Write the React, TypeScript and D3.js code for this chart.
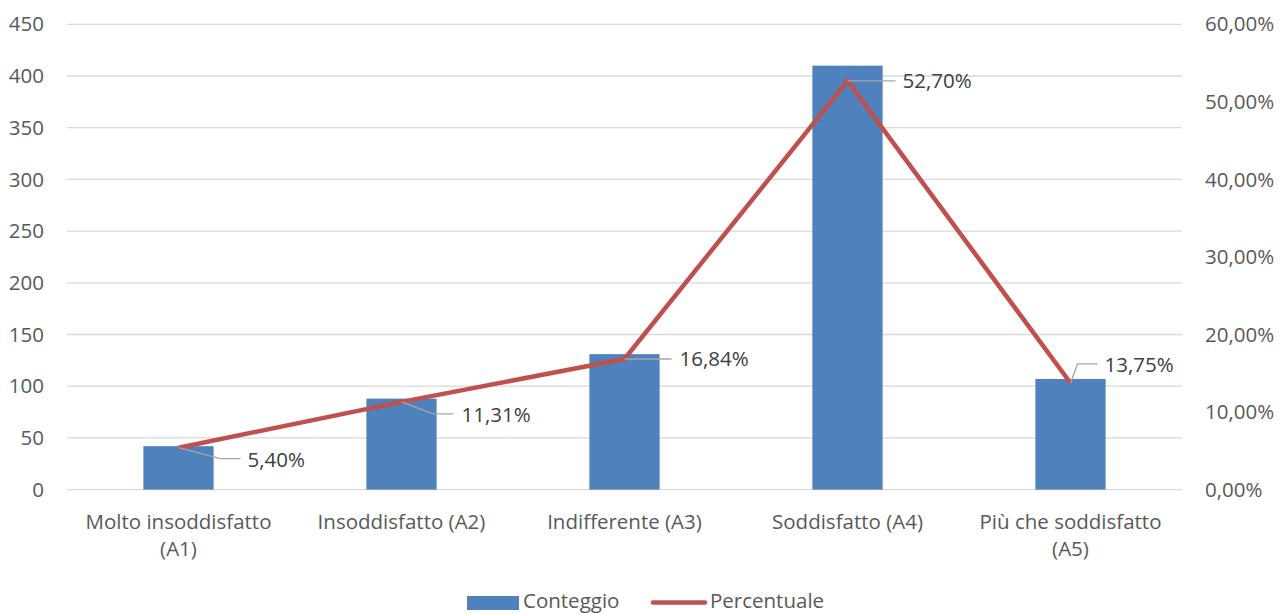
import React from "react";
import * as d3 from "d3";

const categories = [
  ["Molto insoddisfatto", "(A1)"],
  ["Insoddisfatto (A2)"],
  ["Indifferente (A3)"],
  ["Soddisfatto (A4)"],
  ["Più che soddisfatto", "(A5)"],
];
const counts = [42, 88, 131, 410, 107];
const percents = [5.4, 11.31, 16.84, 52.7, 13.75];
const leftTicks = [0, 50, 100, 150, 200, 250, 300, 350, 400, 450];
const rightTicks = [0, 10, 20, 30, 40, 50, 60];

// label placement relative to each point: [leader end dx, dy, text dx, text dy]
const labelOffsets = [
  [62, 11, 69, 12],
  [52, 12, 60, 13],
  [47, 0, 55, 0],
  [48, 0, 55, 0],
  [27, -19, 34, -18],
];

const W = 1288;
const H = 614;
const left = 67;
const right = 1182;
const top = 24.3;
const bottom = 489.6;
const FONT = "'Open Sans', sans-serif";
const TEXT = "#595959";
const FS = 20.5;

const fmt = (v: number) => v.toFixed(2).replace(".", ",") + "%";

export default function App() {
  const x = d3
    .scaleBand<number>()
    .domain(d3.range(categories.length))
    .range([left, right]);
  const barW = x.bandwidth() * 0.315;
  const yL = d3.scaleLinear().domain([0, 450]).range([bottom, top]);
  const yR = d3.scaleLinear().domain([0, 60]).range([bottom, top]);
  const cx = (i: number) => (x(i) as number) + x.bandwidth() / 2;

  const line = d3
    .line<number>()
    .x((_, i) => cx(i))
    .y((d) => yR(d));

  return (
    <svg
      width={W}
      height={H}
      style={{ position: "absolute", left: 0, top: 0, background: "#fff" }}
      fontFamily={FONT}
    >
      {leftTicks.map((t) => (
        <g key={t}>
          <line x1={left} x2={right} y1={yL(t)} y2={yL(t)} stroke="#d9d9d9" strokeWidth={1.3} />
          <text x={44} y={yL(t)} dy="0.35em" textAnchor="end" fontSize={FS} fill={TEXT}>
            {t}
          </text>
        </g>
      ))}
      {rightTicks.map((t) => (
        <text key={t} x={1205} y={yR(t)} dy="0.35em" fontSize={FS} fill={TEXT}>
          {fmt(t)}
        </text>
      ))}
      {counts.map((c, i) => (
        <rect
          key={i}
          x={cx(i) - barW / 2}
          y={yL(c)}
          width={barW}
          height={yL(0) - yL(c)}
          fill="#4f81bd"
        />
      ))}
      <path d={line(percents) || ""} fill="none" stroke="#c0504d" strokeWidth={4.5} strokeLinejoin="round" />
      {percents.map((p, i) => {
        const [lx, ly, tx, ty] = labelOffsets[i];
        const px = cx(i);
        const py = yR(p);
        const hx = px + lx - 8;
        return (
          <g key={i}>
            <polyline
              points={`${px},${py} ${px + lx - 8 - (ly === 0 ? 0 : 12)},${py + ly} ${hx + 8},${py + ly}`}
              fill="none"
              stroke="#a6a6a6"
              strokeWidth={1.3}
            />
            <text x={px + tx} y={py + ty} dy="0.35em" fontSize={FS} fill="#404040">
              {fmt(p)}
            </text>
          </g>
        );
      })}
      {categories.map((lines, i) => (
        <text key={i} x={cx(i)} y={521.5} textAnchor="middle" fontSize={FS} fill={TEXT}>
          {lines.map((l, j) => (
            <tspan key={j} x={cx(i)} dy={j === 0 ? "0.35em" : 27}>
              {l}
            </tspan>
          ))}
        </text>
      ))}
      <g>
        <rect x={467} y={596} width={52} height={14} fill="#4f81bd" />
        <text x={523} y={607.5} fontSize={FS} fill={TEXT}>
          Conteggio
        </text>
        <line x1={653} x2={705} y1={602.5} y2={602.5} stroke="#c0504d" strokeWidth={4.5} strokeLinecap="round" />
        <text x={710} y={607.5} fontSize={FS} fill={TEXT}>
          Percentuale
        </text>
      </g>
    </svg>
  );
}
